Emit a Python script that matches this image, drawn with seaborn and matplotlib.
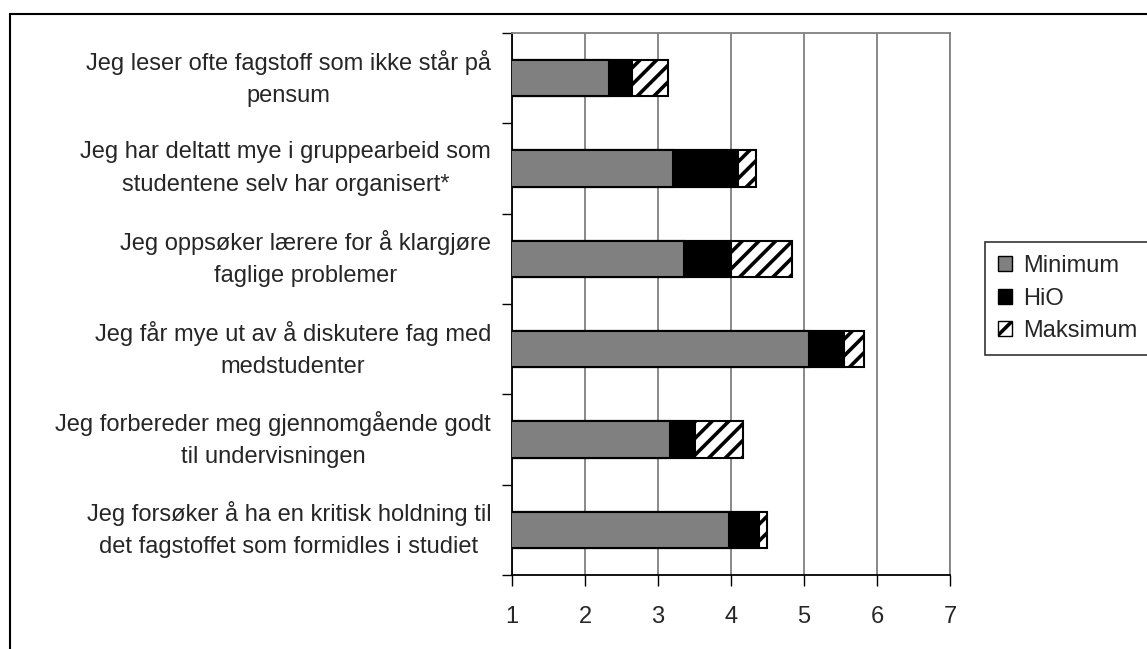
import matplotlib
matplotlib.use("Agg")
import matplotlib.pyplot as plt
import seaborn as sns
import pandas as pd
from matplotlib.patches import Patch, Rectangle
from matplotlib.ticker import FixedLocator

# utsagn (øverst til nederst) og nivåer lest av figuren
labels = [
    "Jeg leser ofte fagstoff som ikke står på\npensum",
    "Jeg har deltatt mye i gruppearbeid som\nstudentene selv har organisert*",
    "Jeg oppsøker lærere for å klargjøre\nfaglige problemer",
    "Jeg får mye ut av å diskutere fag med\nmedstudenter",
    "Jeg forbereder meg gjennomgående godt\ntil undervisningen",
    "Jeg forsøker å ha en kritisk holdning til\ndet fagstoffet som formidles i studiet",
]
minimum = [2.33, 3.21, 3.35, 5.07, 3.16, 3.97]
hio = [2.65, 4.10, 4.00, 5.55, 3.50, 4.38]
maksimum = [3.14, 4.34, 4.84, 5.82, 4.16, 4.49]

df = pd.DataFrame({"utsagn": labels, "Minimum": minimum, "HiO": hio, "Maksimum": maksimum})

sns.set_style("white")
plt.rcParams["font.family"] = ["Liberation Sans", "DejaVu Sans"]
plt.rcParams["hatch.linewidth"] = 2.6
plt.rcParams["hatch.color"] = "black"

fig = plt.figure(figsize=(11.47, 6.49), dpi=100)
ax = fig.add_axes([512 / 1147, 1 - 575 / 649, 438 / 1147, 542 / 649])

# lag oppå hverandre: maks (skravert), HiO (svart), minimum (grå)
sns.barplot(data=df, x="Maksimum", y="utsagn", orient="h", color="white",
            edgecolor="black", linewidth=1.5, hatch="//", width=0.4, ax=ax, zorder=3)
sns.barplot(data=df, x="HiO", y="utsagn", orient="h", color="black",
            edgecolor="black", linewidth=1.5, width=0.4, ax=ax, zorder=3)
sns.barplot(data=df, x="Minimum", y="utsagn", orient="h", color="#808080",
            edgecolor="black", linewidth=1.5, width=0.4, ax=ax, zorder=3)
for p in ax.patches:
    p.set_facecolor(p.get_facecolor()[:3] + (1,))

ax.set_xlim(1, 7)
ax.set_ylim(5.5, -0.5)
ax.set_xlabel("")
ax.set_ylabel("")
ax.set_xticks(range(1, 8))
ax.xaxis.grid(True, color="#808080", linewidth=1.3, zorder=0)
ax.yaxis.grid(False)
ax.set_axisbelow(True)

ax.yaxis.set_minor_locator(FixedLocator([i - 0.5 for i in range(7)]))
ax.tick_params(axis="y", which="major", length=0, pad=15, labelsize=17)
ax.tick_params(axis="y", which="minor", length=7, width=1, color="black", direction="out", left=True)
ax.tick_params(axis="x", length=8, width=1, color="black", direction="out", bottom=True,
               labelsize=17, pad=14)
for t in ax.get_yticklabels():
    t.set_multialignment("center")
    t.set_linespacing(1.6)
    t.set_verticalalignment("center")

for side in ["left", "bottom"]:
    ax.spines[side].set_color("black")
    ax.spines[side].set_linewidth(1.3)
for side in ["top", "right"]:
    ax.spines[side].set_color("#808080")
    ax.spines[side].set_linewidth(1.3)

handles = [
    Patch(facecolor="#808080", edgecolor="black", label="Minimum"),
    Patch(facecolor="black", edgecolor="black", label="HiO"),
    Patch(facecolor="white", edgecolor="black", hatch="//", label="Maksimum"),
]
leg = fig.legend(handles=handles, loc="upper left", bbox_to_anchor=(985 / 1147, 1 - 242 / 649),
                 frameon=True, fancybox=False, fontsize=17, handlelength=0.6, handleheight=0.6,
                 handletextpad=0.45, labelspacing=0.45, borderpad=0.55, borderaxespad=0)
leg.get_frame().set_edgecolor("black")
leg.get_frame().set_linewidth(1.2)

# ramme rundt hele diagramområdet
fig.patches.append(Rectangle((10 / 1147, -0.05), 1.1, 1 - 14 / 649 + 0.05, transform=fig.transFigure,
                             fill=False, edgecolor="black", linewidth=1.5))

fig.savefig("out.png", dpi=100)
